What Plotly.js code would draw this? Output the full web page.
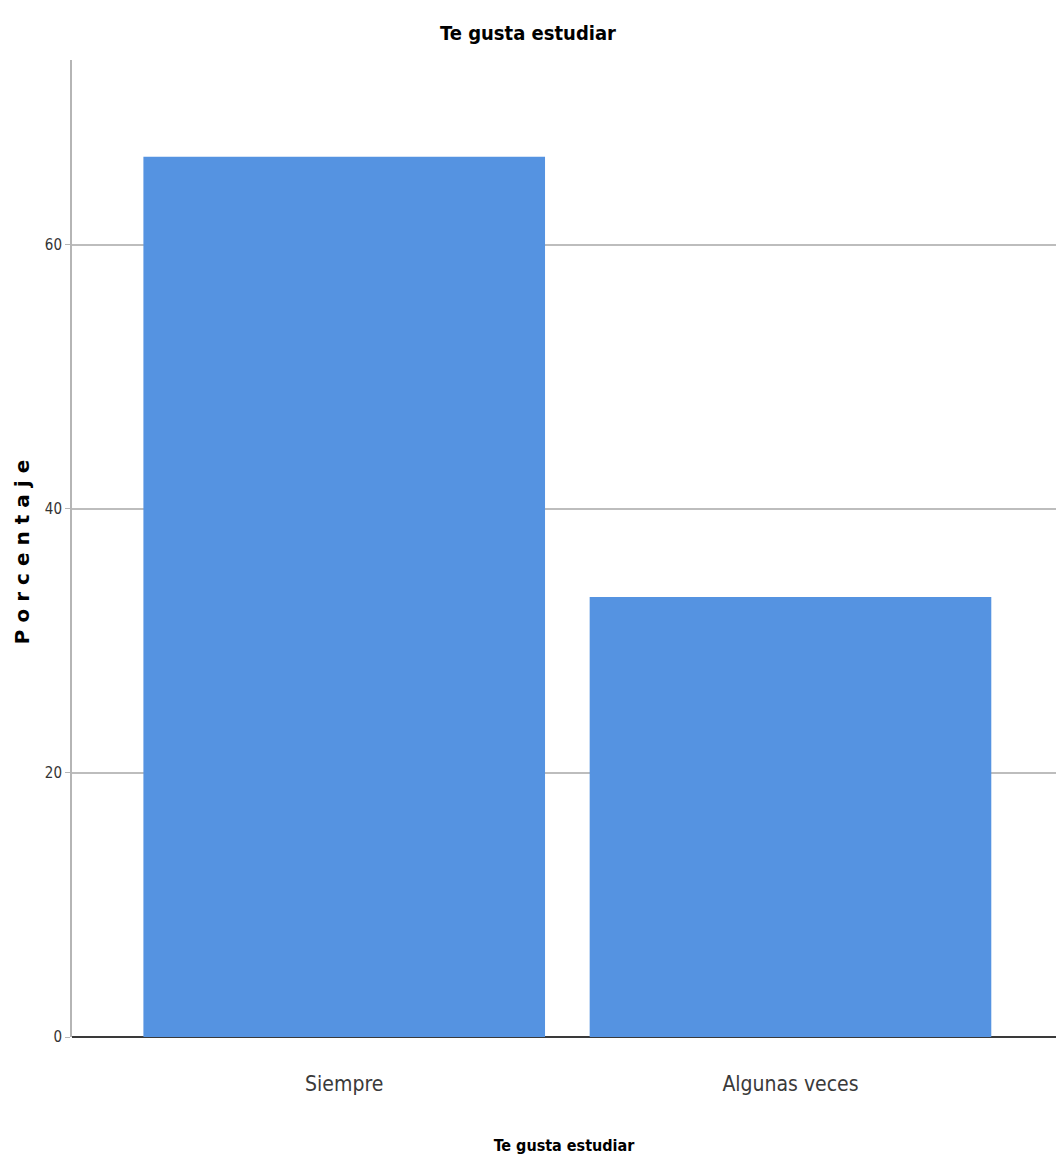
<!DOCTYPE html>
<html>
<head>
<meta charset="utf-8">
<script src="https://cdn.plot.ly/plotly-3.0.1.min.js"></script>
<style>
  html, body { margin: 0; padding: 0; background: #ffffff; }
  #chart { width: 1056px; height: 1176px; }
</style>
</head>
<body>
<div id="chart"></div>
<script>
// Data
const categories = ["Siempre", "Algunas veces"];
const percentages = [66.67, 33.33];
const yTickValues = [0, 20, 40, 60];
const yTickLabels = ["0", "20", "40", "60"];
const chartTitle = "Te gusta estudiar";
const xTitle = "Te gusta estudiar";
const yTitle = "Porcentaje";

const narrow = "'Liberation Sans Narrow', 'DejaVu Sans Condensed', 'Arial Narrow', sans-serif";

const trace = {
  type: "bar",
  x: categories,
  y: percentages,
  marker: { color: "#5593E1", line: { width: 0 } },
  hoverinfo: "x+y"
};

const layout = {
  width: 1056,
  height: 1176,
  paper_bgcolor: "#ffffff",
  plot_bgcolor: "#ffffff",
  margin: { l: 72, r: 0, t: 60, b: 139 },
  showlegend: false,
  bargap: 0.1,
  title: {
    text: chartTitle,
    font: { family: narrow, size: 20, color: "#000000", weight: "bold" },
    xref: "container", x: 0.5, xanchor: "center",
    yref: "container", y: 1 - 33 / 1176, yanchor: "middle"
  },
  xaxis: {
    type: "category",
    range: [-0.61, 1.595],
    showgrid: false,
    zeroline: false,
    showline: false,
    ticks: "",
    ticklabelstandoff: 32,
    tickfont: { family: narrow, size: 21, color: "#3a3a3a" },
    automargin: false,
    title: {
      text: xTitle,
      font: { family: narrow, size: 16, color: "#000000", weight: "bold" },
      standoff: 44
    }
  },
  yaxis: {
    range: [0, 74],
    tickvals: yTickValues,
    ticktext: yTickLabels,
    showgrid: true,
    gridcolor: "#bdbdbd",
    gridwidth: 1.5,
    zeroline: true,
    zerolinecolor: "#3a3a3a",
    zerolinewidth: 2,
    showline: true,
    linecolor: "#b5b5b5",
    linewidth: 2,
    ticks: "outside",
    ticklen: 5,
    tickcolor: "#b5b5b5",
    tickfont: { family: narrow, size: 15, color: "#333333" },
    automargin: false,
    title: {
      text: yTitle,
      font: { family: "'DejaVu Sans', 'Liberation Sans', Arial, sans-serif", size: 20, color: "#000000", weight: "bold" },
      standoff: 10
    }
  }
};

Plotly.newPlot("chart", [trace], layout, { displayModeBar: false, staticPlot: true }).then(function (gd) {
  const yt = gd.querySelector(".ytitle");
  if (yt) { yt.style.letterSpacing = "7px"; }
});
</script>
</body>
</html>
